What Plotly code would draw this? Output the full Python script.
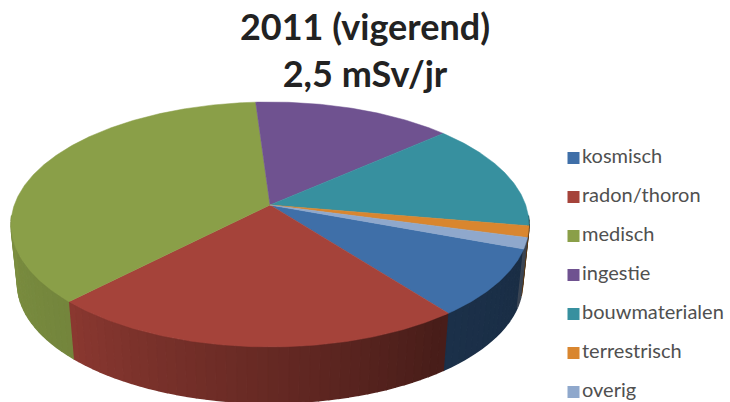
import numpy as np
import plotly.graph_objects as go

# Data (percent of 2,5 mSv/jr)
categories = ["kosmisch", "radon/thoron", "medisch", "ingestie", "bouwmaterialen", "terrestrisch", "overig"]
values = [8.9, 22.7, 36.7, 14.5, 14.25, 1.5, 1.45]
colors = ["#3F6FA8", "#A5433A", "#8A9F48", "#6F5290", "#37909F", "#D9862F", "#8FA8CC"]
start_angle = -20.4
title_lines = ["2011 (vigerend)", "2,5 mSv/jr"]

# Geometry of the tilted disc (pixel-like axes)
CX, CY, R, H, K = 270.0, 205.0, 255.7, 119.4, 0.159
CYB, SB = 264.5, 0.975
LEG_X, LEG_Y0, LEG_DY = 573.5, 158.0, 39.0


def project(theta_deg, cy=CY, s=1.0):
    t = np.radians(theta_deg)
    u, v = np.cos(t), np.sin(t)
    w = 1.0 / (1.0 + K * v)
    return CX + s * R * u * w, cy - s * H * v * w


def darker(hex_color, f):
    r, g, b = (int(hex_color[i:i + 2], 16) for i in (1, 3, 5))
    return f"rgb({int(r * f)},{int(g * f)},{int(b * f)})"


def shade(theta):
    return float(np.interp(theta, [-175, -134, -90, -55, -5], [0.90, 0.84, 0.62, 0.44, 0.40]))


fig = go.Figure()

# cumulative slice limits, clockwise from start_angle
sweep = np.array(values) / sum(values) * 360.0
ends = start_angle - np.cumsum(sweep)
starts = np.concatenate([[start_angle], ends[:-1]])

# side wall strips
for a0, a1, col in zip(starts, ends, colors):
    for a_hi, a_lo in [(a0, a1), (a0 + 360, a1 + 360), (a0 - 360, a1 - 360)]:
        hi, lo = min(a_hi, -5.0), max(a_lo, -175.0)
        if hi <= lo:
            continue
        edges = np.arange(hi, lo - 2.0, -2.0)
        edges[-1] = lo
        for e0, e1 in zip(edges[:-1], edges[1:]):
            th = np.linspace(e0, e1, 3)
            xt, yt = project(th)
            xb, yb = project(th[::-1], CYB, SB)
            c = darker(col, shade((e0 + e1) / 2))
            fig.add_trace(go.Scatter(
                x=np.concatenate([xt, xb]), y=np.concatenate([yt, yb]),
                mode="lines", fill="toself", fillcolor=c,
                line=dict(color=c, width=1.5), hoverinfo="skip", showlegend=False))

# top slices
for name, a0, a1, col in zip(categories, starts, ends, colors):
    th = np.linspace(a0, a1, max(int(a0 - a1) * 2, 8))
    x, y = project(th)
    fig.add_trace(go.Scatter(
        x=np.concatenate([[CX], x, [CX]]), y=np.concatenate([[CY], y, [CY]]),
        mode="lines", fill="toself", fillcolor=col, line=dict(color=col, width=0.5),
        name=name, showlegend=False, hoverinfo="name"))

# legend rows
for i, (name, col) in enumerate(zip(categories, colors)):
    fig.add_trace(go.Scatter(
        x=[LEG_X], y=[LEG_Y0 + i * LEG_DY], mode="markers+text", name=name,
        text=[name], textposition="middle right",
        textfont=dict(family="Lato", size=20, color="#505050"),
        marker=dict(symbol="square", size=12, color=col),
        showlegend=False, hoverinfo="skip", cliponaxis=False))

fig.update_layout(
    width=730, height=402, autosize=False,
    margin=dict(l=0, r=0, t=0, b=0),
    paper_bgcolor="white", plot_bgcolor="white",
    xaxis=dict(range=[0, 730], visible=False, fixedrange=True),
    yaxis=dict(range=[402, 0], visible=False, fixedrange=True),
    title=dict(text="<br>".join(title_lines), x=365 / 730, xanchor="center",
               y=0.9, yanchor="top", font=dict(family="Lato", size=36, color="#222222", weight="bold")),
    showlegend=False,
)
fig.write_html("out.html", config={"displayModeBar": False},
               post_script="document.body.style.margin='0';document.body.style.overflow='hidden';")
